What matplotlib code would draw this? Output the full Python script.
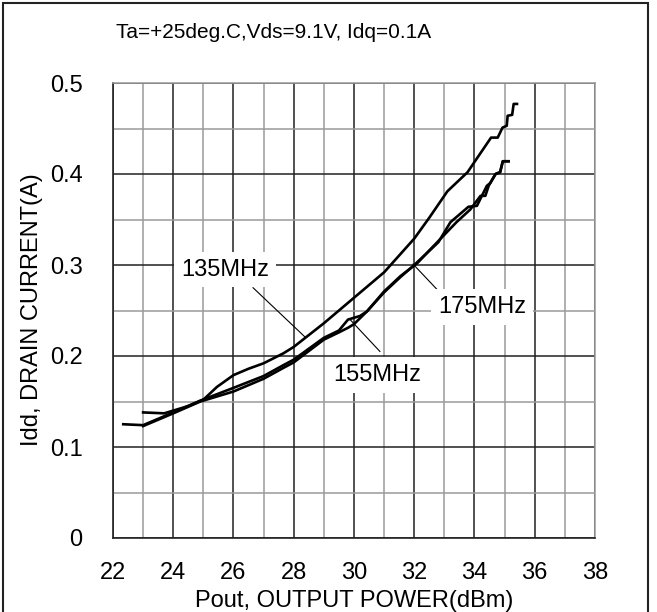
import matplotlib
matplotlib.use("Agg")
import matplotlib.pyplot as plt
from matplotlib.patches import Rectangle

plt.rcParams['font.family'] = ['Liberation Sans', 'DejaVu Sans']

# Idd vs Pout, three frequencies
x135 = [23.0, 23.7, 24.0, 24.5, 25.0, 25.45, 26.0, 26.5, 27.0, 27.66, 28.0, 29.0, 30.0,
        31.0, 32.0, 32.5, 33.1, 33.77, 34.2, 34.55, 34.77, 34.93, 35.07, 35.1, 35.25,
        35.3, 35.41]
y135 = [0.138, 0.137, 0.140, 0.145, 0.152, 0.166, 0.179, 0.186, 0.192, 0.203, 0.210,
        0.236, 0.264, 0.292, 0.329, 0.352, 0.381, 0.402, 0.423, 0.440, 0.440, 0.451,
        0.453, 0.464, 0.465, 0.477, 0.477]

x155 = [22.34, 23.0, 24.0, 24.9, 26.0, 27.0, 27.66, 28.0, 29.0, 29.5, 29.8, 30.2, 30.43,
        31.0, 31.55, 32.1, 32.53, 33.4, 33.86, 34.2, 34.36, 34.47, 34.7, 34.85, 34.94,
        35.13]
y155 = [0.125, 0.124, 0.138, 0.151, 0.165, 0.178, 0.190, 0.196, 0.220, 0.228, 0.240,
        0.244, 0.249, 0.271, 0.288, 0.302, 0.317, 0.347, 0.361, 0.376, 0.376, 0.387,
        0.400, 0.402, 0.414, 0.414]

x175 = [23.0, 24.0, 24.9, 26.0, 27.0, 27.66, 28.0, 29.0, 29.5, 29.8, 30.0, 30.43, 31.0,
        31.55, 32.0, 32.8, 33.2, 33.8, 34.08, 34.41, 34.52, 34.7, 34.85, 34.94, 35.13]
y175 = [0.123, 0.137, 0.150, 0.161, 0.175, 0.187, 0.193, 0.218, 0.226, 0.231, 0.235,
        0.249, 0.270, 0.287, 0.300, 0.325, 0.347, 0.364, 0.365, 0.387, 0.390, 0.400,
        0.402, 0.414, 0.414]

xticks = [22, 24, 26, 28, 30, 32, 34, 36, 38]
yticks = [0, 0.1, 0.2, 0.3, 0.4, 0.5]
ytick_labels = ['0', '0.1', '0.2', '0.3', '0.4', '0.5']

# label text, text position, leader line start/end
labels = [
    ('135MHz', (25.72, 0.295), (26.65, 0.275), (28.37, 0.221)),
    ('175MHz', (34.25, 0.254), (31.96, 0.301), (32.76, 0.273)),
    ('155MHz', (30.77, 0.1795), (29.87, 0.240), (30.86, 0.205)),
]

fig = plt.figure(figsize=(6.57, 6.12), dpi=100)
ax = fig.add_axes([113 / 657, 74 / 612, 482 / 657, 455 / 612])

ax.set_xlim(22, 38)
ax.set_ylim(0, 0.5)
ax.set_xticks(xticks)
ax.set_xticks(range(23, 38, 2), minor=True)
ax.set_yticks(yticks)
ax.set_yticklabels(ytick_labels)
ax.set_yticks([0.05, 0.15, 0.25, 0.35, 0.45], minor=True)
ax.tick_params(which='both', length=0)
ax.tick_params(axis='x', pad=17, labelsize=17)
ax.tick_params(axis='y', pad=22, labelsize=17)

ax.grid(which='major', color='#222222', lw=1.1)
ax.grid(which='minor', color='#9a9a9a', lw=1.1)
ax.set_axisbelow(True)
for s in ['left', 'bottom']:
    ax.spines[s].set_color('#222222')
    ax.spines[s].set_linewidth(1.2)
for s in ['top', 'right']:
    ax.spines[s].set_color('#9a9a9a')
    ax.spines[s].set_linewidth(1.1)

ax.plot(x135, y135, color='black', lw=1.9, zorder=3)
ax.plot(x155, y155, color='black', lw=1.9, zorder=3)
ax.plot(x175, y175, color='black', lw=1.9, zorder=3)

for txt, pos, p0, p1 in labels:
    ax.plot([p0[0], p1[0]], [p0[1], p1[1]], color='black', lw=0.8, zorder=4)
    ax.text(pos[0], pos[1], txt, fontsize=17, ha='center', va='center', zorder=5,
            bbox=dict(facecolor='white', edgecolor='none', pad=5))

fig.text(116 / 657, 1 - 33 / 612, 'Ta=+25deg.C,Vds=9.1V, Idq=0.1A', fontsize=15,
         ha='left', va='center')
fig.text(354 / 657, 1 - 601 / 612, 'Pout, OUTPUT POWER(dBm)', fontsize=17,
         ha='center', va='center')
fig.text(32 / 657, 1 - 310 / 612, 'Idd, DRAIN CURRENT(A)', fontsize=17,
         ha='center', va='center', rotation=90)

# outer frame around the whole chart (open at the bottom edge)
fig.patches.append(Rectangle((3 / 657, -0.05), 645 / 657, 1.05 - 3 / 612,
                             transform=fig.transFigure, fill=False,
                             edgecolor='#222222', lw=1.5))

fig.savefig('out.png', dpi=100)
